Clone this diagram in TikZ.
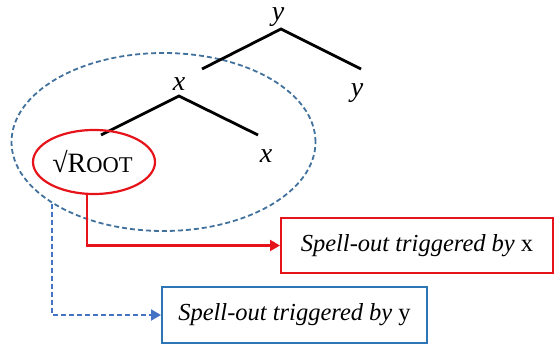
\documentclass[tikz,border=0pt]{standalone}
\usepackage{fontspec}
\setmainfont{Liberation Serif}
\usetikzlibrary{arrows.meta,shapes.geometric}
\definecolor{redc}{RGB}{230,20,26}
\definecolor{boxblue}{RGB}{46,117,182}
\definecolor{dashblue}{RGB}{65,113,156}
\definecolor{arrblue}{RGB}{68,114,196}
\tikzset{
  branch/.style={line width=2.8pt},
  lab/.style={font=\fontsize{28}{30}\selectfont\itshape, inner sep=0pt, anchor=base},
  outbox/.style={draw, rectangle, line width=2pt, inner sep=0pt, font=\fontsize{24.5}{28}\selectfont},
}
\begin{document}
\begin{tikzpicture}[x=1pt,y=-1pt]
\useasboundingbox (0,0) rectangle (556,345);
% dashed domain
\node[ellipse, draw=dashblue, dashed, dash pattern=on 5pt off 3pt, line width=1.8pt, minimum width=304pt, minimum height=178pt, inner sep=0pt] (dom) at (163.5,142) {};
% tree
\node[lab] (ytop) at (278,21) {y};
\coordinate (yv) at (281,29);
\coordinate (yl) at (202,69);
\coordinate (yr) at (361,69);
\draw[branch] (yl) -- (yv) -- (yr);
\node[lab] (yright) at (357,96) {y};
\node[lab] (xlab) at (179,90) {x};
\coordinate (xv) at (179,96);
\coordinate (xl) at (101,135);
\coordinate (xr) at (258,135);
\draw[branch] (xl) -- (xv) -- (xr);
\node[lab] (xright) at (266,162) {x};
% root
\node[ellipse, draw=redc, line width=2.2pt, minimum width=122pt, minimum height=64pt, inner sep=0pt, font=\fontsize{28}{30}\selectfont] (root) at (94,162) {\kern-3pt √R{\fontsize{22.5}{24}\selectfont OOT}};
% boxes
\node[outbox, draw=redc, minimum width=272pt, minimum height=55pt] (bx) at (417,245.5) {\itshape Spell-out triggered by \upshape x};
\node[outbox, draw=boxblue, minimum width=265pt, minimum height=56pt] (by) at (294.5,315) {\itshape Spell-out triggered by \upshape y};
% connectors
\draw[redc, line width=2.2pt, -{Triangle[length=10pt,width=11pt]}] (root.-102) |- (bx.west);
\draw[arrblue, line width=2pt, dashed, dash pattern=on 5pt off 3pt, -{Triangle[length=10pt,width=11pt]}] (dom.-151) |- (by.west);
\end{tikzpicture}
\end{document}
